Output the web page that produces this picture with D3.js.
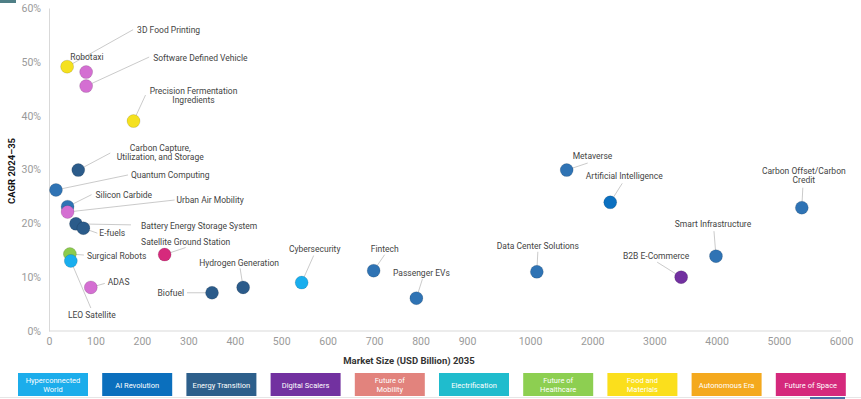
<!DOCTYPE html>
<html>
<head>
<meta charset="utf-8">
<script src="https://cdn.jsdelivr.net/npm/d3@7"></script>
<style>
  body { margin: 0; background: #fff; }
  svg { display: block; font-family: 'Liberation Sans Narrow', 'Roboto', sans-serif; }
</style>
</head>
<body>
<svg id="chart" width="861" height="399"></svg>
<script>
// chart data
const names = ["3D Food Printing", "Robotaxi", "Software Defined Vehicle", "Precision Fermentation Ingredients",
  "Carbon Capture, Utilization, and Storage", "Quantum Computing", "Silicon Carbide", "Urban Air Mobility",
  "Battery Energy Storage System", "E-fuels", "Surgical Robots", "LEO Satellite", "ADAS",
  "Satellite Ground Station", "Biofuel", "Hydrogen Generation", "Cybersecurity", "Fintech", "Passenger EVs",
  "Data Center Solutions", "Metaverse", "Artificial Intelligence", "Carbon Offset/Carbon Credit",
  "Smart Infrastructure", "B2B E-Commerce"];
const marketSize = [39, 80, 80, 182, 63, 15, 40, 40, 58, 74, 45, 47, 90, 249, 351, 418, 544, 699, 791,
  1110, 1590, 2290, 5370, 3990, 3430];
const cagr = [49.1, 48.1, 45.5, 39.0, 29.9, 26.2, 23.1, 22.1, 19.9, 19.1, 14.3, 13.0, 8.1, 14.2, 7.1, 8.1,
  9.0, 11.2, 6.1, 11.0, 29.9, 23.9, 22.9, 13.9, 10.0];
const pointColor = ["food", "mobility", "mobility", "food", "energy", "tech", "tech", "mobility", "energy",
  "energy", "health", "hyper", "mobility", "space", "energy", "energy", "hyper", "tech", "tech", "tech",
  "tech", "ai", "tech", "tech", "digital"];

const legendNames = [["Hyperconnected", "World"], ["AI Revolution"], ["Energy Transition"], ["Digital Scalers"],
  ["Future of", "Mobility"], ["Electrification"], ["Future of", "Healthcare"], ["Food and", "Materials"],
  ["Autonomous  Era"], ["Future of Space"]];
const legendColors = ["#1cadeb", "#0b6fbd", "#2d5f8b", "#7231a0", "#e2837d", "#1fbccd", "#8dcf51",
  "#fbdf1c", "#f4a91e", "#d5297c"];

const xTicks = [0, 100, 200, 300, 400, 500, 600, 700, 800, 900, 1000, 2000, 3000, 4000, 5000, 6000];
const yTicks = [0, 10, 20, 30, 40, 50, 60];

// point colours
const fills = {
  food: "#f5e11f", mobility: "#d46fd2", energy: "#2b5b8a", tech: "#2f73b4", health: "#8ccb4d",
  hyper: "#19aeee", space: "#d62a7c", ai: "#0b70c0", digital: "#7230a0"
};

// label placement: offset of text and of leader start, from the point
const labelPos = {
  "3D Food Printing": { dx: 70, dy: -34, a: "start", lx: 66, ly: -37 },
  "Robotaxi": { dx: -16, dy: -12, a: "start" },
  "Software Defined Vehicle": { dx: 67, dy: -25, a: "start", lx: 63, ly: -29 },
  "Precision Fermentation Ingredients": { dx: 60, dy: -27.5, a: "middle", lx: 12, ly: -26,
    lines: ["Precision Fermentation", "Ingredients"] },
  "Carbon Capture, Utilization, and Storage": { dx: 82, dy: -19, a: "middle", lx: 32, ly: -17,
    lines: ["Carbon Capture,", "Utilization, and Storage"] },
  "Quantum Computing": { dx: 75, dy: -12, a: "start", lx: 72, ly: -15 },
  "Silicon Carbide": { dx: 28, dy: -9, a: "start", lx: 24, ly: -12 },
  "Urban Air Mobility": { dx: 109, dy: -9, a: "start", lx: 107, ly: -12 },
  "Battery Energy Storage System": { dx: 65, dy: 5, a: "start", lx: 55, ly: 1 },
  "E-fuels": { dx: 16, dy: 8, a: "start", lx: 14, ly: 5 },
  "Surgical Robots": { dx: 17, dy: 4.5, a: "start", lx: 14, ly: 1 },
  "LEO Satellite": { dx: 21, dy: 57, a: "middle", lx: 20, ly: 47 },
  "ADAS": { dx: 17, dy: -2, a: "start", lx: 14, ly: -4 },
  "Satellite Ground Station": { dx: 21, dy: -10, a: "middle", lx: 21, ly: -7 },
  "Biofuel": { dx: -28, dy: 3, a: "end", lx: -25, ly: 0 },
  "Hydrogen Generation": { dx: -4, dy: -21.5, a: "middle", lx: -3, ly: -19 },
  "Cybersecurity": { dx: 13, dy: -31, a: "middle", lx: 12, ly: -27 },
  "Fintech": { dx: 11, dy: -19, a: "middle", lx: 11, ly: -16 },
  "Passenger EVs": { dx: 5, dy: -22, a: "middle", lx: 6, ly: -19 },
  "Data Center Solutions": { dx: 1, dy: -23, a: "middle", lx: 1, ly: -20 },
  "Metaverse": { dx: 6, dy: -11, a: "start", lx: 21, ly: -7 },
  "Artificial Intelligence": { dx: 14, dy: -23, a: "middle", lx: 12, ly: -19 },
  "Carbon Offset/Carbon Credit": { dx: 2, dy: -33.5, a: "middle", lx: 1, ly: -20,
    lines: ["Carbon Offset/Carbon", "Credit"] },
  "Smart Infrastructure": { dx: -3, dy: -29, a: "middle", lx: -2, ly: -25 },
  "B2B E-Commerce": { dx: -25, dy: -18.5, a: "middle", lx: -24, ly: -15 }
};

const svg = d3.select("#chart");

// broken x axis: 0-900 linear, then 1000-6000
const x = d3.scaleLinear().domain([0, 900, 1000, 6000]).range([49, 467, 530, 841]);
const y = d3.scaleLinear().domain([0, 60]).range([331, 8]);

// small screenshot leftovers
svg.append("rect").attr("x", 0).attr("y", 0).attr("width", 16).attr("height", 3).attr("fill", "#4f7f86");
svg.append("line").attr("x1", 0).attr("x2", 861).attr("y1", 397.5).attr("y2", 397.5)
  .attr("stroke", "#e6e6e6");
svg.append("rect").attr("x", 810).attr("y", 397).attr("width", 35).attr("height", 2).attr("fill", "#4a6fa8");

// axes
const yAxis = svg.append("g").attr("transform", "translate(49,0)")
  .call(d3.axisLeft(y).tickValues(yTicks).tickFormat(d => d + "%").tickSize(0).tickPadding(8));
const xAxis = svg.append("g").attr("transform", "translate(0,331)")
  .call(d3.axisBottom(x).tickValues(xTicks).tickFormat(d3.format("d")).tickSize(0).tickPadding(7));
[xAxis, yAxis].forEach(g => {
  g.select(".domain").attr("stroke", "#d9d9d9");
  g.selectAll("text").attr("fill", "#9a9a9a").attr("font-size", 10.5)
    .attr("font-family", "'Liberation Sans Narrow', 'Roboto', sans-serif");
});
xAxis.select(".domain").attr("d", "M49,0H841");

svg.append("text").attr("x", 409).attr("y", 364).attr("text-anchor", "middle")
  .attr("font-size", 9.5).attr("font-weight", "bold").attr("fill", "#333")
  .text("Market Size (USD Billion) 2035");
svg.append("text").attr("transform", "translate(15,171) rotate(-90)").attr("text-anchor", "middle")
  .attr("font-size", 9.5).attr("font-weight", "bold").attr("fill", "#111")
  .text("CAGR 2024\u201335");

const pts = names.map((n, i) => ({ name: n, x: marketSize[i], y: cagr[i], c: pointColor[i] }));

// leader lines
svg.append("g").selectAll("line")
  .data(pts.filter(d => labelPos[d.name].lx !== undefined))
  .join("line")
  .attr("x1", d => x(d.x) + labelPos[d.name].lx)
  .attr("y1", d => y(d.y) + labelPos[d.name].ly)
  .attr("x2", d => x(d.x))
  .attr("y2", d => y(d.y))
  .attr("stroke", "#bdbdbd").attr("stroke-width", 0.8);

// bubbles
svg.append("g").selectAll("circle")
  .data(pts)
  .join("circle")
  .attr("cx", d => x(d.x))
  .attr("cy", d => y(d.y))
  .attr("r", 6.5)
  .attr("fill", d => fills[d.c])
  .attr("stroke", "rgba(0,0,0,0.18)")
  .attr("stroke-width", 0.7);

// labels
const lbl = svg.append("g").selectAll("text")
  .data(pts)
  .join("text")
  .attr("x", d => x(d.x) + labelPos[d.name].dx)
  .attr("y", d => y(d.y) + labelPos[d.name].dy)
  .attr("text-anchor", d => labelPos[d.name].a)
  .attr("font-size", 8.5)
  .attr("fill", "#444");
lbl.each(function (d) {
  const lines = labelPos[d.name].lines || [d.name];
  const t = d3.select(this);
  lines.forEach((s, k) => {
    t.append("tspan").attr("x", x(d.x) + labelPos[d.name].dx).attr("dy", k ? 9 : 0).text(s);
  });
});

// legend
const leg = svg.append("g").selectAll("g")
  .data(legendNames)
  .join("g")
  .attr("transform", (d, i) => `translate(${18 + i * 84.2},373)`);
leg.append("rect").attr("width", 70).attr("height", 23).attr("fill", (d, i) => legendColors[i]);
leg.append("text")
  .attr("text-anchor", "middle")
  .attr("font-size", 7.5)
  .attr("fill", "#fff")
  .each(function (d) {
    const t = d3.select(this);
    d.forEach((s, k) => {
      t.append("tspan").attr("x", 35)
        .attr("y", d.length === 1 ? 14.5 : 9.5 + k * 9)
        .text(s);
    });
  });
</script>
</body>
</html>
